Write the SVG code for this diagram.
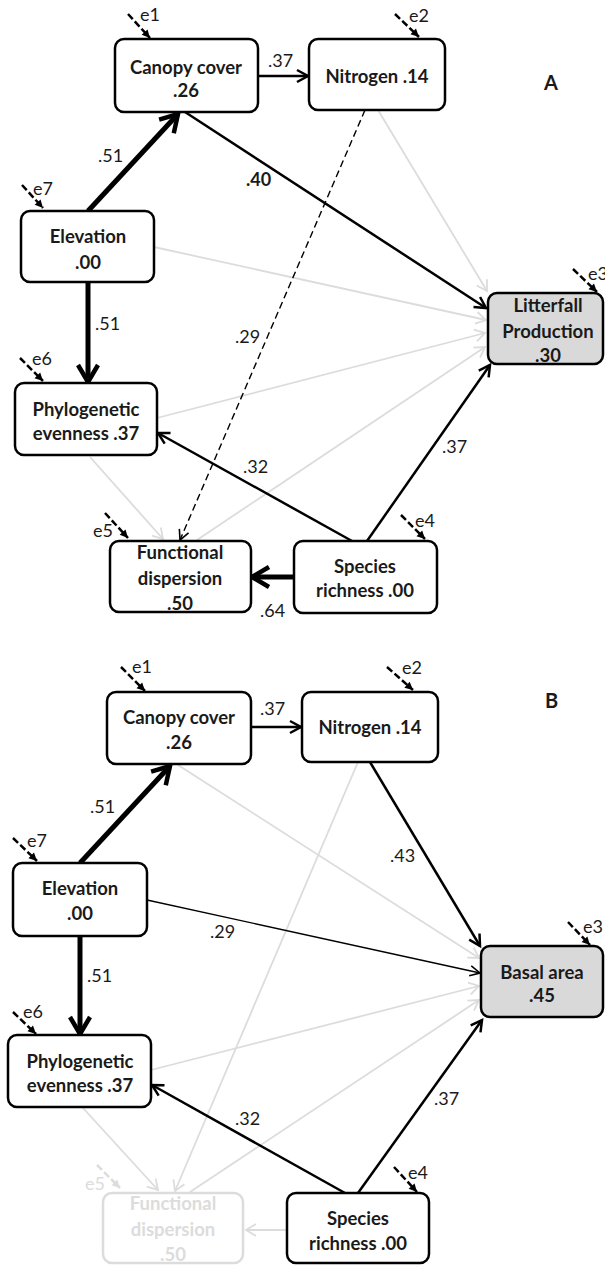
<svg xmlns="http://www.w3.org/2000/svg" width="605" height="1265" viewBox="0 0 605 1265">
<style>
.box{fill:#fff;stroke:#000;stroke-width:2.5}
.dep{fill:#d9d9d9;stroke:#000;stroke-width:2.5}
.faintbox{fill:#fff;stroke:#dcdcdc;stroke-width:2.5}
.t{font-family:Lato,"Liberation Sans",sans-serif;font-weight:bold;font-size:18.5px;text-anchor:middle;fill:#1a1a1a}
.tf{font-family:Lato,"Liberation Sans",sans-serif;font-weight:bold;font-size:18.5px;text-anchor:middle;fill:#dcdcdc}
.l{font-family:Lato,"Liberation Sans",sans-serif;font-size:18px;fill:#1a1a1a}
.lb{font-family:Lato,"Liberation Sans",sans-serif;font-size:18px;font-weight:bold;fill:#1a1a1a}
.e{font-family:Lato,"Liberation Sans",sans-serif;font-size:18px;fill:#1a1a1a}
.ef{font-family:Lato,"Liberation Sans",sans-serif;font-size:18px;fill:#dcdcdc}
.pan{font-family:Lato,"Liberation Sans",sans-serif;font-size:20px;font-weight:bold;fill:#1a1a1a}
.blk{stroke:#000;stroke-width:2.5;fill:none;marker-end:url(#ab)}
.thk{stroke:#000;stroke-width:5;fill:none;marker-end:url(#at)}
.thin{stroke:#000;stroke-width:1.4;fill:none;marker-end:url(#ab2)}
.gry{stroke:#dcdcdc;stroke-width:1.8;fill:none;marker-end:url(#ag)}
.dsh{stroke:#000;stroke-width:1.4;fill:none;stroke-dasharray:7,4;marker-end:url(#ab2)}
.err{stroke:#000;stroke-width:2.5;fill:none;stroke-dasharray:7,3;marker-end:url(#ae)}
.errf{stroke:#dcdcdc;stroke-width:2.5;fill:none;stroke-dasharray:7,3;marker-end:url(#aef)}
</style>
<defs>
<marker id="ab" markerUnits="userSpaceOnUse" viewBox="0 0 16 16" markerWidth="16" markerHeight="16" refX="13" refY="8" orient="auto" overflow="visible"><path d="M2,2 L13,8 L2,14" fill="none" stroke="#000" stroke-width="2.5"/></marker>
<marker id="ab2" markerUnits="userSpaceOnUse" viewBox="0 0 16 16" markerWidth="16" markerHeight="16" refX="13" refY="8" orient="auto" overflow="visible"><path d="M3,3 L13,8 L3,13" fill="none" stroke="#000" stroke-width="1.6"/></marker>
<marker id="at" markerUnits="userSpaceOnUse" viewBox="0 0 24 24" markerWidth="24" markerHeight="24" refX="20" refY="12" orient="auto" overflow="visible"><path d="M3,2 L20,12 L3,22" fill="none" stroke="#000" stroke-width="4.5"/></marker>
<marker id="ag" markerUnits="userSpaceOnUse" viewBox="0 0 16 16" markerWidth="16" markerHeight="16" refX="13" refY="8" orient="auto" overflow="visible"><path d="M3,2 L13,8 L3,14" fill="none" stroke="#dcdcdc" stroke-width="1.8"/></marker>
<marker id="ae" markerUnits="userSpaceOnUse" viewBox="0 0 10 10" markerWidth="10" markerHeight="10" refX="8" refY="5" orient="auto" overflow="visible"><path d="M0,1 L8,5 L0,9 z" fill="#000"/></marker>
<marker id="aef" markerUnits="userSpaceOnUse" viewBox="0 0 10 10" markerWidth="10" markerHeight="10" refX="8" refY="5" orient="auto" overflow="visible"><path d="M0,1 L8,5 L0,9 z" fill="#dcdcdc"/></marker>
</defs>

<g id="connectors">
<line class="gry" x1="378" y1="110" x2="487" y2="291"/>
<line class="gry" x1="154" y1="247" x2="486" y2="320"/>
<line class="gry" x1="157" y1="418" x2="485" y2="333"/>
<line class="gry" x1="90" y1="457" x2="163" y2="539"/>
<line class="gry" x1="197" y1="540" x2="485" y2="347"/>
<line class="blk" x1="258" y1="76" x2="308" y2="76"/>
<line class="thk" x1="88" y1="211" x2="178" y2="114"/>
<line class="blk" x1="185" y1="112" x2="486" y2="308"/>
<line class="thk" x1="88" y1="282" x2="88" y2="382"/>
<line class="dsh" x1="365" y1="110" x2="180" y2="540"/>
<line class="thk" x1="294" y1="577" x2="252" y2="577"/>
<line class="blk" x1="352" y1="541" x2="158" y2="433"/>
<line class="blk" x1="367" y1="541" x2="490" y2="365"/>
<line class="err" x1="128" y1="14" x2="150" y2="38"/>
<line class="err" x1="395" y1="14" x2="419" y2="37"/>
<line class="err" x1="22" y1="185" x2="43" y2="208"/>
<line class="err" x1="20" y1="358" x2="43" y2="381"/>
<line class="err" x1="573" y1="269" x2="597" y2="292"/>
<line class="err" x1="105" y1="513" x2="128" y2="538"/>
<line class="err" x1="401" y1="515" x2="425" y2="539"/>

<line class="gry" x1="178" y1="765" x2="479" y2="958"/>
<line class="gry" x1="358" y1="762" x2="175" y2="1191"/>
<line class="gry" x1="151" y1="1070" x2="479" y2="986"/>
<line class="gry" x1="190" y1="1192" x2="479" y2="1000"/>
<line class="gry" x1="83" y1="1108" x2="158" y2="1190"/>
<line class="gry" x1="287" y1="1230" x2="246" y2="1230"/>
<line class="blk" x1="251" y1="727" x2="301" y2="727"/>
<line class="thk" x1="80" y1="863" x2="170" y2="766"/>
<line class="thk" x1="80" y1="936" x2="80" y2="1034"/>
<line class="thin" x1="147" y1="900" x2="480" y2="973"/>
<line class="blk" x1="370" y1="762" x2="480" y2="946"/>
<line class="blk" x1="345" y1="1193" x2="152" y2="1085"/>
<line class="blk" x1="358" y1="1193" x2="482" y2="1020"/>
<line class="err" x1="121" y1="667" x2="145" y2="691"/>
<line class="err" x1="387" y1="667" x2="413" y2="690"/>
<line class="err" x1="13" y1="838" x2="37" y2="861"/>
<line class="err" x1="13" y1="1012" x2="36" y2="1034"/>
<line class="err" x1="568" y1="922" x2="590" y2="945"/>
<line class="errf" x1="97" y1="1165" x2="120" y2="1188"/>
<line class="err" x1="394" y1="1167" x2="417" y2="1192"/>
</g>

<g id="edge-labels">
<text class="l" x="268" y="67">.37</text>
<text class="l" x="98" y="162">.51</text>
<text class="lb" x="246" y="186">.40</text>
<text class="l" x="95" y="330">.51</text>
<text class="l" x="235" y="343">.29</text>
<text class="l" x="243" y="473">.32</text>
<text class="l" x="442" y="453">.37</text>
<text class="l" x="260" y="617">.64</text>

<text class="l" x="260" y="715">.37</text>
<text class="l" x="90" y="813">.51</text>
<text class="l" x="87" y="982">.51</text>
<text class="l" x="210" y="938">.29</text>
<text class="l" x="390" y="862">.43</text>
<text class="l" x="235" y="1125">.32</text>
<text class="l" x="434" y="1105">.37</text>

<text class="e" x="140" y="21">e1</text>
<text class="e" x="409" y="22">e2</text>
<text class="e" x="33" y="195">e7</text>
<text class="e" x="32" y="365">e6</text>
<text class="e" x="588" y="280">e3</text>
<text class="e" x="93" y="537">e5</text>
<text class="e" x="415" y="527">e4</text>

<text class="e" x="132" y="673">e1</text>
<text class="e" x="402" y="674">e2</text>
<text class="e" x="27" y="847">e7</text>
<text class="e" x="23" y="1018">e6</text>
<text class="e" x="583" y="933">e3</text>
<text class="ef" x="85" y="1190">e5</text>
<text class="e" x="408" y="1179">e4</text>

<text class="pan" x="544" y="90">A</text>
<text class="pan" x="545" y="708">B</text>
</g>

<g id="A-canopy"><rect class="box" x="115" y="39" width="143" height="73" rx="9"/><text class="t" x="186" y="74">Canopy cover</text><text class="t" x="186" y="97">.26</text></g>
<g id="A-nitrogen"><rect class="box" x="309" y="39" width="136" height="71" rx="9"/><text class="t" x="377" y="83">Nitrogen .14</text></g>
<g id="A-elevation"><rect class="box" x="21" y="211" width="133" height="71" rx="9"/><text class="t" x="88" y="243">Elevation</text><text class="t" x="88" y="269">.00</text></g>
<g id="A-litterfall"><rect class="dep" x="488" y="293" width="115" height="71" rx="9"/><text class="t" x="548" y="312">Litterfall</text><text class="t" x="548" y="338">Production</text><text class="t" x="548" y="362">.30</text></g>
<g id="A-phylo"><rect class="box" x="15" y="383" width="142" height="72" rx="9"/><text class="t" x="86" y="416">Phylogenetic</text><text class="t" x="86" y="440">evenness .37</text></g>
<g id="A-functional"><rect class="box" x="110" y="541" width="141" height="71" rx="9"/><text class="t" x="180" y="559">Functional</text><text class="t" x="180" y="585">dispersion</text><text class="t" x="180" y="610">.50</text></g>
<g id="A-species"><rect class="box" x="294" y="541" width="143" height="72" rx="9"/><text class="t" x="365" y="573">Species</text><text class="t" x="365" y="597">richness .00</text></g>

<g id="B-canopy"><rect class="box" x="107" y="692" width="144" height="72" rx="9"/><text class="t" x="179" y="724">Canopy cover</text><text class="t" x="179" y="749">.26</text></g>
<g id="B-nitrogen"><rect class="box" x="302" y="692" width="136" height="70" rx="9"/><text class="t" x="370" y="734">Nitrogen .14</text></g>
<g id="B-elevation"><rect class="box" x="13" y="863" width="134" height="73" rx="9"/><text class="t" x="80" y="895">Elevation</text><text class="t" x="80" y="920">.00</text></g>
<g id="B-basal"><rect class="dep" x="481" y="946" width="122" height="71" rx="9"/><text class="t" x="542" y="979">Basal area</text><text class="t" x="542" y="1002">.45</text></g>
<g id="B-phylo"><rect class="box" x="8" y="1035" width="143" height="72" rx="9"/><text class="t" x="80" y="1068">Phylogenetic</text><text class="t" x="80" y="1092">evenness .37</text></g>
<g id="B-functional"><rect class="faintbox" x="103" y="1193" width="140" height="70" rx="9"/><text class="tf" x="173" y="1210">Functional</text><text class="tf" x="173" y="1236">dispersion</text><text class="tf" x="173" y="1261">.50</text></g>
<g id="B-species"><rect class="box" x="287" y="1193" width="142" height="70" rx="9"/><text class="t" x="358" y="1225">Species</text><text class="t" x="358" y="1250">richness .00</text></g>
</svg>
